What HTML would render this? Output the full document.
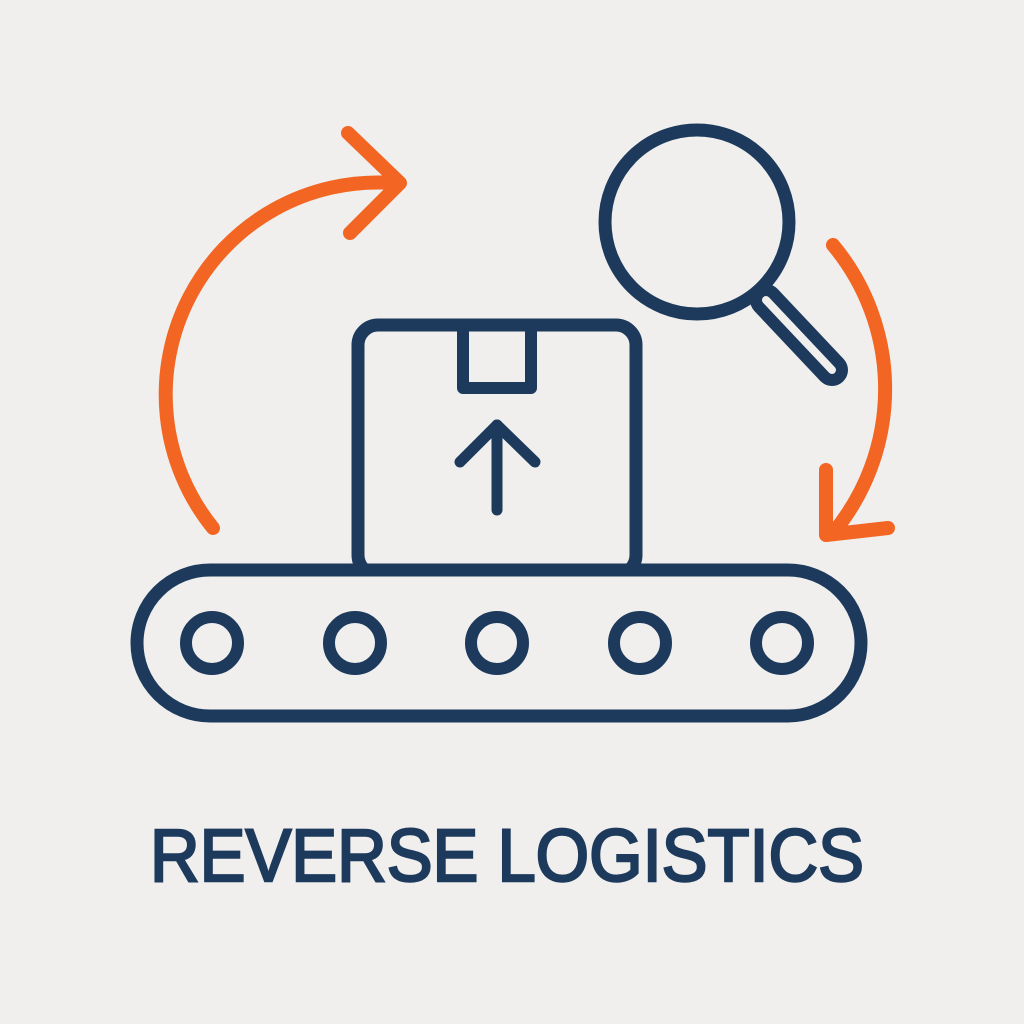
<!DOCTYPE html>
<html><head><style>html,body{margin:0;padding:0;background:#f0efed;}svg{display:block}</style></head>
<body>
<svg width="1024" height="1024" viewBox="0 0 1024 1024" xmlns="http://www.w3.org/2000/svg">
<rect width="1024" height="1024" fill="#f0efed"/>
<g fill="none" stroke-linecap="round" stroke-linejoin="round">
<path d="M213,528 A212,212 0 0 1 392,183" stroke="#f26522" stroke-width="14"/>
<path d="M348,133 L400,183 L350,233" stroke="#f26522" stroke-width="14"/>
<path d="M833,245 A225,225 0 0 1 833,533" stroke="#f26522" stroke-width="14"/>
<path d="M826,470 L826,535 L888,528" stroke="#f26522" stroke-width="14"/>
<circle cx="697" cy="222" r="92" stroke="#1d3a5c" stroke-width="13"/>
<line x1="766" y1="300" x2="832" y2="370" stroke="#1d3a5c" stroke-width="32"/>
<line x1="766" y1="300" x2="832" y2="370" stroke="#f0efed" stroke-width="8"/>
<rect x="358" y="325" width="278" height="250" rx="20" stroke="#1d3a5c" stroke-width="13"/>
<path d="M463,330 L463,388 L531,388 L531,330" stroke="#1d3a5c" stroke-width="12"/>
<line x1="497" y1="425" x2="497" y2="510" stroke="#1d3a5c" stroke-width="11"/>
<path d="M460,462 L497,425 L535,462" stroke="#1d3a5c" stroke-width="11"/>
<rect x="137" y="570" width="724" height="146" rx="73" fill="#f0efed" stroke="#1d3a5c" stroke-width="13"/>
<circle cx="212" cy="643" r="26" stroke="#1d3a5c" stroke-width="12"/>
<circle cx="355" cy="643" r="26" stroke="#1d3a5c" stroke-width="12"/>
<circle cx="497" cy="643" r="26" stroke="#1d3a5c" stroke-width="12"/>
<circle cx="640" cy="643" r="26" stroke="#1d3a5c" stroke-width="12"/>
<circle cx="782" cy="643" r="26" stroke="#1d3a5c" stroke-width="12"/>
</g>
<text x="150" y="881" textLength="714" lengthAdjust="spacingAndGlyphs" font-family="Liberation Sans, sans-serif" font-size="74" fill="#1d3a5c" stroke="#1d3a5c" stroke-width="2.5">REVERSE LOGISTICS</text>
</svg>
</body></html>
